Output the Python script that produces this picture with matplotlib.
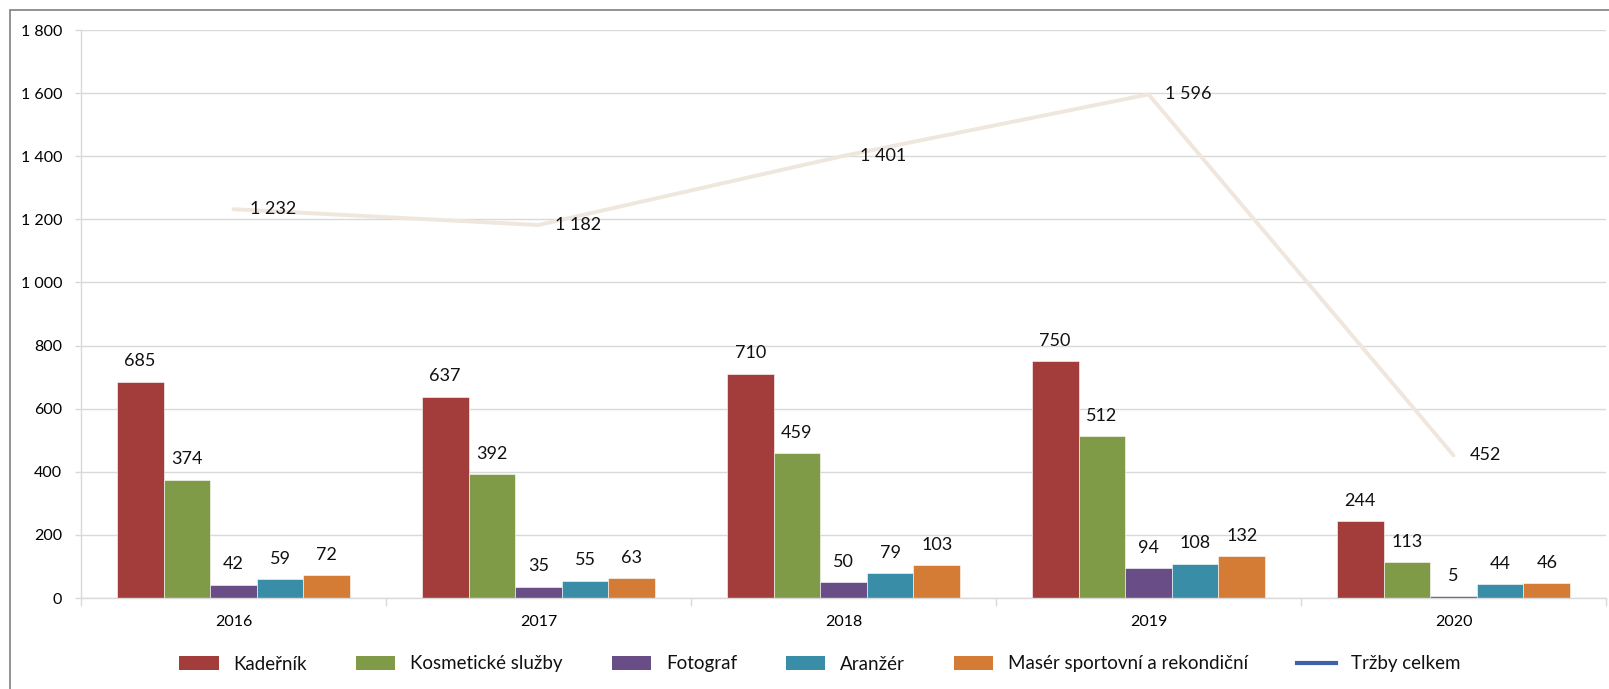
import matplotlib
matplotlib.use("Agg")
import matplotlib.pyplot as plt
import numpy as np
from matplotlib.lines import Line2D
from matplotlib.patches import Patch, Rectangle
from matplotlib.ticker import FuncFormatter, FixedLocator

years = ["2016", "2017", "2018", "2019", "2020"]
series_names = ["Kadeřník", "Kosmetické služby", "Fotograf", "Aranžér", "Masér sportovní a rekondiční"]
kadernik = [685, 637, 710, 750, 244]
kosmetika = [374, 392, 459, 512, 113]
fotograf = [42, 35, 50, 94, 5]
aranzer = [59, 55, 79, 108, 44]
maser = [72, 63, 103, 132, 46]
trzby_name = "Tržby celkem"
trzby = [1232, 1182, 1401, 1596, 452]

colors = ["#A33D3C", "#7F9B47", "#684D87", "#3A8DA6", "#D47C35"]
line_color = "#EFE6DD"
legend_line_color = "#3D62A8"

plt.rcParams['font.family'] = ['Lato', 'DejaVu Sans']
plt.rcParams['text.color'] = '#111111'

W, H = 1609, 689
fig = plt.figure(figsize=(W / 100, H / 100), dpi=100)
ax = fig.add_axes([81 / W, 1 - 598 / H, (1606 - 81) / W, (598 - 30) / H])

x = np.arange(len(years))
bw = 0.153
data = [kadernik, kosmetika, fotograf, aranzer, maser]
for i, (vals, c, name) in enumerate(zip(data, colors, series_names)):
    pos = x + (i - 2) * bw
    ax.bar(pos, vals, width=bw, color=c, edgecolor='white', linewidth=0.4, zorder=2)
    for p, v in zip(pos, vals):
        ax.annotate(f"{v}", (p, v), xytext=(0, 9), textcoords='offset points',
                    ha='center', va='bottom', fontsize=13, zorder=4)

ax.plot(x, trzby, color=line_color, linewidth=2.8, zorder=3, solid_capstyle='round')
for xi, v in zip(x, trzby):
    s = f"{v:,}".replace(",", " ")
    ax.annotate(s, (xi, v), xytext=(12, 0), textcoords='offset points',
                ha='left', va='center', fontsize=13, zorder=4)

ax.set_xlim(-0.5, len(years) - 0.5)
ax.set_ylim(0, 1800)
ax.yaxis.set_major_locator(FixedLocator(np.arange(0, 1801, 200)))
ax.yaxis.set_major_formatter(FuncFormatter(lambda v, p: f"{int(v):,}".replace(",", " ")))
ax.grid(axis='y', color='#D9D9D9', linewidth=1, zorder=0)
ax.set_axisbelow(True)

ax.xaxis.set_major_locator(FixedLocator(np.arange(-0.5, len(years), 1)))
ax.xaxis.set_major_formatter(FuncFormatter(lambda v, p: ""))
ax.set_xticks(x, minor=True)
ax.set_xticklabels(years, minor=True)
ax.tick_params(axis='x', which='minor', length=0, pad=12, labelsize=11.5)
ax.tick_params(axis='x', which='major', length=6, color='#D9D9D9', width=1)
ax.tick_params(axis='y', length=4.5, color='#D9D9D9', width=1, pad=9, labelsize=11.5)

for s in ['top', 'right']:
    ax.spines[s].set_visible(False)
for s in ['left', 'bottom']:
    ax.spines[s].set_color('#D9D9D9')
    ax.spines[s].set_linewidth(1)

handles = [Patch(facecolor=c, edgecolor='none') for c in colors]
handles.append(Line2D([0], [0], color=legend_line_color, linewidth=3))
labels = series_names + [trzby_name]
fig.legend(handles, labels, loc='center', bbox_to_anchor=(820 / W, 1 - 664 / H),
           ncol=6, frameon=False, fontsize=13.5, handlelength=2.1, handleheight=0.75,
           columnspacing=2.6, handletextpad=0.8)

fig.patches.append(Rectangle((10 / W, -0.1), 1.2, 1 - 10 / H + 0.1, transform=fig.transFigure,
                             fill=False, edgecolor='#7F7F7F', linewidth=1.2, clip_on=False))

fig.savefig("out.png", dpi=100, facecolor='white')
